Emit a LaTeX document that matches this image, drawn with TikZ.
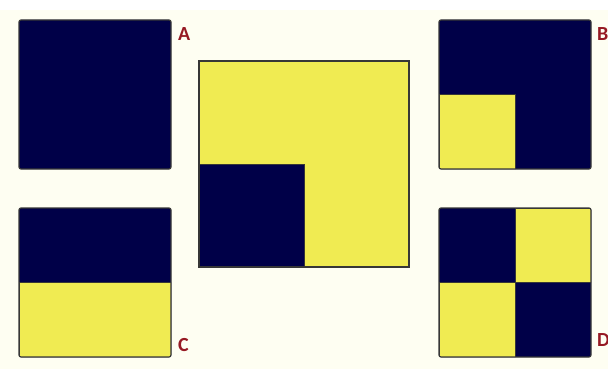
\documentclass[tikz,border=0pt]{standalone}
\usepackage{fontspec}
\setmainfont{Carlito}
\usetikzlibrary{positioning, calc}
\definecolor{navyfill}{RGB}{0,0,72}
\definecolor{lemonfill}{RGB}{240,235,82}
\definecolor{tagred}{RGB}{150,25,35}
\definecolor{edgegray}{RGB}{55,55,55}
\definecolor{creambg}{RGB}{254,254,242}
\def\ppbb{path picture bounding box}

\begin{document}
\begin{tikzpicture}[x=1pt, y=-1pt,
    tile/.style={
      draw=edgegray, line width=1.2pt, rounded corners=2pt,
      inner sep=0pt, outer sep=0pt, anchor=north west,
      minimum width=152pt, minimum height=149pt
    },
    patch/.style={fill=lemonfill, draw=edgegray, line width=0.4pt, sharp corners},
    darkpatch/.style={fill=navyfill, draw=edgegray, line width=0.4pt, sharp corners},
    tag/.style={font=\fontsize{20}{20}\selectfont\bfseries, text=tagred, inner sep=0pt},
]
    \useasboundingbox (0,0) rectangle (608,369);
    \fill[white] (0,0) rectangle (608,369);
    \fill[creambg] (0,10) rectangle (608,369);

    % the four small tiles
    \node[tile, fill=navyfill] (boxA) at (19,20) {};
    \node[tile, fill=navyfill, path picture={
        \filldraw[patch] (\ppbb.south west) rectangle (\ppbb.center);}]
      (boxB) at (439,20) {};
    \node[tile, fill=navyfill, path picture={
        \filldraw[patch] (\ppbb.south west) rectangle (\ppbb.east);}]
      (boxC) at (19,208) {};
    \node[tile, fill=navyfill, path picture={
        \filldraw[patch] (\ppbb.south west) rectangle (\ppbb.center);
        \filldraw[patch] (\ppbb.center) rectangle (\ppbb.north east);}]
      (boxD) at (439,208) {};

    % big tile in the middle
    \node[tile, fill=lemonfill, sharp corners, minimum width=210pt,
          minimum height=206pt, path picture={
        \filldraw[darkpatch] (\ppbb.south west) rectangle (\ppbb.center);}]
      (boxM) at (199,61) {};

    % Labels
    \node[tag, anchor=north west] at ([xshift=7pt, yshift=-7pt]boxA.north east) {A};
    \node[tag, anchor=north west] at ([xshift=6pt, yshift=-7pt]boxB.north east) {B};
    \node[tag, anchor=south west] at ([xshift=7pt, yshift=5pt]boxC.south east) {C};
    \node[tag, anchor=south west] at ([xshift=6pt, yshift=10pt]boxD.south east) {D};
\end{tikzpicture}
\end{document}
